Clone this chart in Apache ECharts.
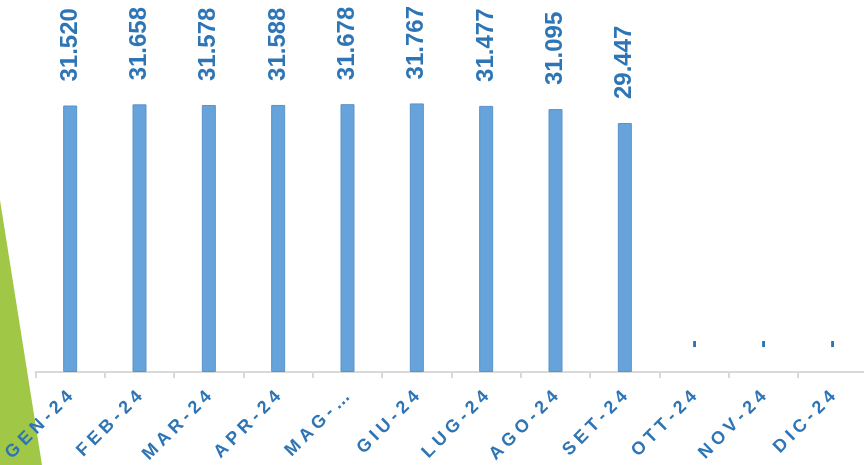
<!DOCTYPE html>
<html>
<head>
<meta charset="utf-8">
<script src="https://cdn.jsdelivr.net/npm/echarts@6/dist/echarts.min.js"></script>
<style>
  html, body { margin: 0; padding: 0; background: #fff; }
  #chart { width: 864px; height: 465px; }
</style>
</head>
<body>
<div id="chart"></div>
<script>
// mesi (categorie) e etichette come appaiono sull'asse
var months = ["GEN-24", "FEB-24", "MAR-24", "APR-24", "MAG-24", "GIU-24", "LUG-24", "AGO-24", "SET-24", "OTT-24", "NOV-24", "DIC-24"];
var tickLabels = ["GEN-24", "FEB-24", "MAR-24", "APR-24", "MAG-…", "GIU-24", "LUG-24", "AGO-24", "SET-24", "OTT-24", "NOV-24", "DIC-24"];
// valori mensili
var values = [31520, 31658, 31578, 31588, 31678, 31767, 31477, 31095, 29447, 0, 0, 0];

function fmt(v) {
  if (!v) return "-";
  return String(v).replace(/\B(?=(\d{3})+(?!\d))/g, ".");
}

var chartDom = document.getElementById("chart");
var myChart = echarts.init(chartDom);
var option;

option = {
  animation: false,
  grid: {
    left: 35.5,
    top: 0,
    width: 832,
    bottom: 93,
    outerBoundsMode: "none",
  },
  graphic: [
    {
      type: "polygon",
      z: -1,
      shape: { points: [[0, 200], [42, 465], [0, 465]] },
      style: { fill: "#a0c846" },
    },
  ],
  xAxis: {
    type: "category",
    data: months,
    axisLine: { lineStyle: { color: "#d9d9d9", width: 2 } },
    axisTick: { show: true, length: 6, lineStyle: { color: "#d9d9d9", width: 2 } },
    axisLabel: {
      rotate: 45,
      margin: 22,
      interval: 0,
      color: "#2e75b6",
      fontWeight: "bold",
      fontSize: 18,
      fontFamily: "Liberation Sans",
      formatter: function (v, i) {
        return tickLabels[i].split("").join("\u2005");
      },
    },
  },
  yAxis: {
    type: "value",
    min: 0,
    max: 44000,
    show: false,
    splitLine: { show: false },
  },
  series: [
    {
      type: "bar",
      data: values.map(function (v) {
        return v ? v : { value: 0, itemStyle: { borderWidth: 0, color: "transparent" } };
      }),
      barWidth: 14,
      itemStyle: {
        color: "#67a3db",
        borderColor: "#5a92cc",
        borderWidth: 1,
      },
      label: {
        show: true,
        position: "top",
        rotate: 90,
        align: "left",
        verticalAlign: "middle",
        distance: 22,
        offset: [2, 0],
        color: "#2e75b6",
        fontWeight: "bold",
        fontSize: 24,
        fontFamily: "Liberation Sans",
        formatter: function (p) {
          return fmt(p.value);
        },
      },
    },
  ],
};

option && myChart.setOption(option);
</script>
</body>
</html>
